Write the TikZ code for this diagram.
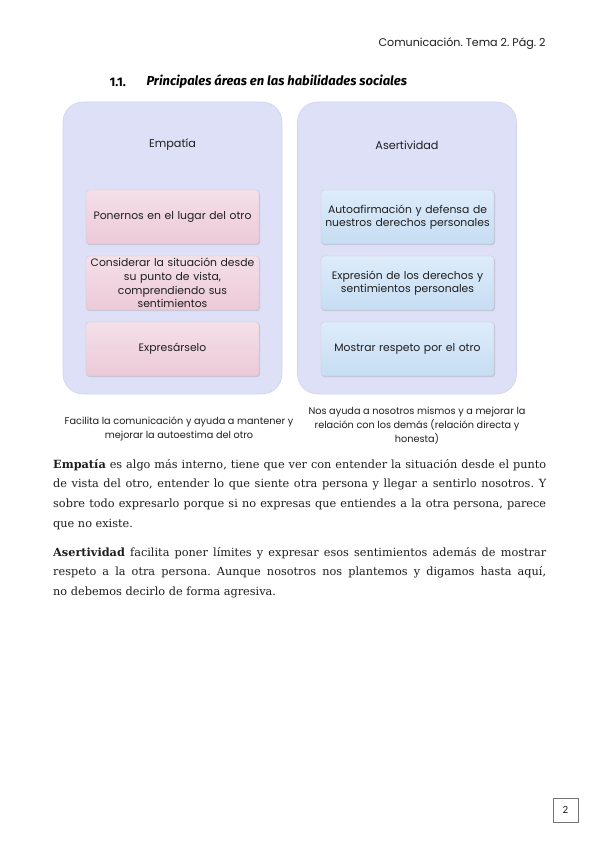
\documentclass[tikz,border=0pt]{standalone}
\usepackage{fontspec}
\setmainfont{DejaVu Serif}
\newfontfamily\gothic{Poppins}
\newfontfamily\headfont{Fira Sans}
\newfontfamily\pgfont{Carlito}
\usetikzlibrary{shadows}
\definecolor{outerfill}{RGB}{221,224,247}
\definecolor{outerdraw}{RGB}{208,212,240}
\definecolor{pinktop}{RGB}{244,224,233}
\definecolor{pinkbot}{RGB}{236,201,215}
\definecolor{bluetop}{RGB}{222,236,250}
\definecolor{bluebot}{RGB}{198,221,243}
\definecolor{innerdraw}{RGB}{200,200,212}
\definecolor{txt}{RGB}{30,30,30}
\tikzset{
  outerbox/.style={draw=outerdraw, fill=outerfill, rounded corners=20pt,
    minimum width=219pt, minimum height=292pt, line width=0.6pt},
  pinkbox/.style={draw=innerdraw, top color=pinktop, bottom color=pinkbot,
    rounded corners=3pt, minimum width=173pt, minimum height=54pt,
    text width=171pt, align=center, inner sep=1pt,
    font=\gothic\fontsize{10.8}{13.6}\selectfont, text=txt,
    drop shadow={shadow xshift=1pt, shadow yshift=-1.2pt, opacity=0.25}},
  bluebox/.style={pinkbox, top color=bluetop, bottom color=bluebot},
  boxtitle/.style={font=\gothic\fontsize{11.2}{13}\selectfont, text=txt},
  caption/.style={font=\gothic\fontsize{9.7}{14}\selectfont, text=txt, align=center},
  para/.style={anchor=north west, inner sep=0pt, text width=493pt, align=justify, text=txt,
    font=\fontsize{11.3}{19.6}\selectfont},
}
\begin{document}
\frenchspacing
\begin{tikzpicture}[x=1pt,y=-1pt]
\useasboundingbox (0,0) rectangle (599,848);
\fill[white] (0,0) rectangle (599,848);

\node[anchor=east, font=\gothic\fontsize{11.1}{13}\selectfont, text=txt] (hdr) at (549,44) {Comunicación. Tema 2. Pág. 2};

\node[anchor=west, font=\headfont\bfseries\fontsize{12.5}{14}\selectfont, text=black] (num) at (106,82) {1.1.};
\node[anchor=west, font=\headfont\bfseries\itshape\fontsize{13}{14}\selectfont, text=black] (heading) at (143,82) {Principales áreas en las habilidades sociales};

\node[outerbox] (left) at (172.5,248) {};
\node[outerbox] (right) at (407,248) {};

\node[boxtitle] (emp) at (172.5,145) {Empatía};
\node[boxtitle] (ase) at (407,145) {Asertividad};

\node[pinkbox] (l1) at (172.5,217) {Ponernos en el lugar del otro};
\node[pinkbox] (l2) at (172.5,283) {Considerar la situación desde\\su punto de vista,\\comprendiendo sus\\sentimientos};
\node[pinkbox] (l3) at (172.5,349) {Expresárselo};

\node[bluebox] (r1) at (407.5,217) {Autoafirmación y defensa de\\nuestros derechos personales};
\node[bluebox] (r2) at (407.5,283) {Expresión de los derechos y\\sentimientos personales};
\node[bluebox] (r3) at (407.5,349) {Mostrar respeto por el otro};

\node[caption] (capl) at (179,429) {Facilita la comunicación y ayuda a mantener y\\mejorar la autoestima del otro};
\node[caption] (capr) at (417,426) {Nos ayuda a nosotros mismos y a mejorar la\\relación con los demás (relación directa y\\honesta)};

\node[para] (p1) at (53,459)
{\textbf{Empatía} es algo más interno, tiene que ver con entender la situación desde el punto\linebreak
de vista del otro, entender lo que siente otra persona y llegar a sentirlo nosotros. Y\linebreak
sobre todo expresarlo porque si no expresas que entiendes a la otra persona, parece\linebreak
que no existe.};

\node[para] (p2) at (53,547)
{\textbf{Asertividad} facilita poner límites y expresar esos sentimientos además de mostrar\linebreak
respeto a la otra persona. Aunque nosotros nos plantemos y digamos hasta aquí,\linebreak
no debemos decirlo de forma agresiva.};

\node[draw=black!55, line width=0.9pt, minimum width=25pt, minimum height=24pt,
  font=\pgfont\fontsize{11}{12}\selectfont, text=txt] (pg) at (565.5,810) {2};
\end{tikzpicture}
\end{document}
